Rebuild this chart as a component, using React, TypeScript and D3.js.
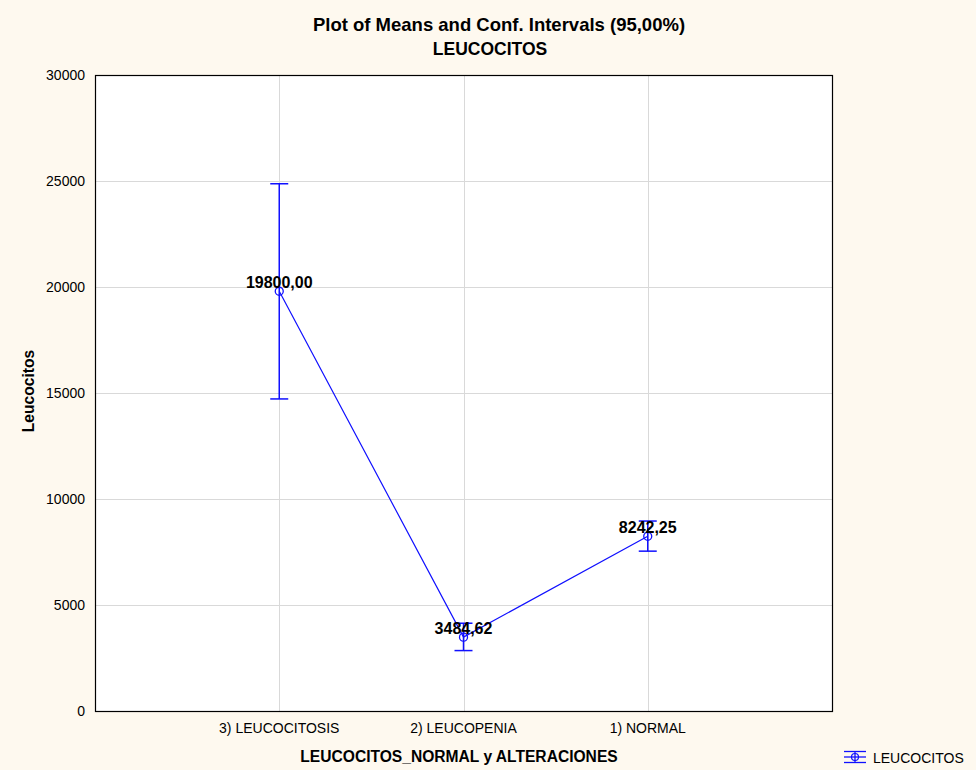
import React, {useEffect, useRef} from 'react';
import * as d3 from 'd3';

const categories = ["3) LEUCOCITOSIS", "2) LEUCOPENIA", "1) NORMAL"];
const means = [19800.00, 3484.62, 8242.25];
const lowerCI = [14720, 2850, 7540];
const upperCI = [24870, 4140, 8960];
const yTicks = [0, 5000, 10000, 15000, 20000, 25000, 30000];

const fmt = (v: number) => v.toFixed(2).replace(".", ",");

const App = () => {
    const ref = useRef<SVGSVGElement>(null);

    useEffect(() => {
        const width = 976;
        const height = 770;
        const m = {left: 95, top: 75, right: 832, bottom: 711};
        const font = "'Liberation Sans', Arial, sans-serif";
        const blue = "#1010ff";

        const svg = d3.select(ref.current);
        svg.selectAll("*").remove();

        svg.append("rect").attr("width", width).attr("height", height).attr("fill", "#fef9ef");

        // x positions: 3 categories sitting on the inner points of a 5 slot scale
        const x = d3.scalePoint<string>()
            .domain(["", ...categories, " "])
            .range([m.left, m.right]);
        const y = d3.scaleLinear().domain([0, 30000]).range([m.bottom, m.top]);

        svg.append("rect")
            .attr("x", m.left).attr("y", m.top)
            .attr("width", m.right - m.left).attr("height", m.bottom - m.top)
            .attr("fill", "white");

        // grid
        const grid = svg.append("g").attr("stroke", "#d9d9d9").attr("stroke-width", 1);
        grid.selectAll("line.h")
            .data(yTicks.slice(1, -1))
            .join("line")
            .attr("x1", m.left).attr("x2", m.right)
            .attr("y1", d => Math.round(y(d)) + 0.5).attr("y2", d => Math.round(y(d)) + 0.5);
        grid.selectAll("line.v")
            .data(categories)
            .join("line")
            .attr("y1", m.top).attr("y2", m.bottom)
            .attr("x1", d => Math.round(x(d)!) + 0.5).attr("x2", d => Math.round(x(d)!) + 0.5);

        svg.append("rect")
            .attr("x", m.left + 0.5).attr("y", m.top + 0.5)
            .attr("width", m.right - m.left).attr("height", m.bottom - m.top)
            .attr("fill", "none").attr("stroke", "#000").attr("stroke-width", 1.2);

        // y tick labels
        svg.append("g")
            .style("font-family", font).style("font-size", "14px")
            .attr("text-anchor", "end")
            .selectAll("text")
            .data(yTicks)
            .join("text")
            .attr("x", 85).attr("y", d => y(d) + 5)
            .text(d => d);

        // x tick labels
        svg.append("g")
            .style("font-family", font).style("font-size", "14px")
            .attr("text-anchor", "middle")
            .selectAll("text")
            .data(categories)
            .join("text")
            .attr("x", d => x(d)!).attr("y", 733)
            .text(d => d);

        // line through means
        const line = d3.line<number>()
            .x((_, i) => x(categories[i])!)
            .y(d => y(d));
        svg.append("path")
            .datum(means)
            .attr("d", line)
            .attr("fill", "none").attr("stroke", blue).attr("stroke-width", 1.2);

        // error bars
        const eb = svg.append("g").attr("stroke", blue).attr("stroke-width", 1.5);
        categories.forEach((c, i) => {
            const cx = x(c)!;
            eb.append("line").attr("x1", cx).attr("x2", cx).attr("y1", y(lowerCI[i])).attr("y2", y(upperCI[i]));
            eb.append("line").attr("x1", cx - 9).attr("x2", cx + 9).attr("y1", y(lowerCI[i])).attr("y2", y(lowerCI[i]));
            eb.append("line").attr("x1", cx - 9).attr("x2", cx + 9).attr("y1", y(upperCI[i])).attr("y2", y(upperCI[i]));
        });

        svg.append("g")
            .selectAll("circle")
            .data(means)
            .join("circle")
            .attr("cx", (_, i) => x(categories[i])!)
            .attr("cy", d => y(d))
            .attr("r", 4)
            .attr("fill", "none").attr("stroke", blue).attr("stroke-width", 1.3);

        // value labels
        svg.append("g")
            .style("font-family", font).style("font-size", "16px").style("font-weight", "bold")
            .attr("text-anchor", "middle")
            .selectAll("text")
            .data(means)
            .join("text")
            .attr("x", (_, i) => x(categories[i])!)
            .attr("y", d => y(d) - 3)
            .text(d => fmt(d));

        // titles
        const t = svg.append("g")
            .style("font-family", font).style("font-weight", "bold")
            .attr("text-anchor", "middle");
        t.append("text").attr("x", 499).attr("y", 31).style("font-size", "18.5px")
            .text("Plot of Means and Conf. Intervals (95,00%)");
        t.append("text").attr("x", 490).attr("y", 55).style("font-size", "17.5px")
            .text("LEUCOCITOS");
        t.append("text").attr("x", 459).attr("y", 762).style("font-size", "15.6px")
            .text("LEUCOCITOS_NORMAL y ALTERACIONES");
        t.append("text")
            .attr("transform", "translate(34,391) rotate(-90)")
            .style("font-size", "15.6px")
            .text("Leucocitos");

        // legend
        const lg = svg.append("g").attr("transform", "translate(844,757)");
        lg.append("line").attr("x1", 0).attr("x2", 22).attr("y1", -5.5).attr("y2", -5.5).attr("stroke", blue).attr("stroke-width", 1.3);
        lg.append("line").attr("x1", 0).attr("x2", 22).attr("y1", 5.5).attr("y2", 5.5).attr("stroke", blue).attr("stroke-width", 1.3);
        lg.append("line").attr("x1", 0).attr("x2", 22).attr("y1", 0).attr("y2", 0).attr("stroke", blue).attr("stroke-width", 1.3);
        lg.append("line").attr("x1", 11).attr("x2", 11).attr("y1", -5.5).attr("y2", 5.5).attr("stroke", blue).attr("stroke-width", 1.3);
        lg.append("circle").attr("cx", 11).attr("cy", 0).attr("r", 3.5).attr("fill", "none").attr("stroke", blue).attr("stroke-width", 1.2);
        lg.append("text").attr("x", 29).attr("y", 6)
            .style("font-family", font).style("font-size", "14px")
            .text("LEUCOCITOS");
    }, []);

    return (
        <svg ref={ref} width={976} height={770}
             style={{position: "absolute", left: 0, top: 0, display: "block"}}/>
    );
};

export default App;
